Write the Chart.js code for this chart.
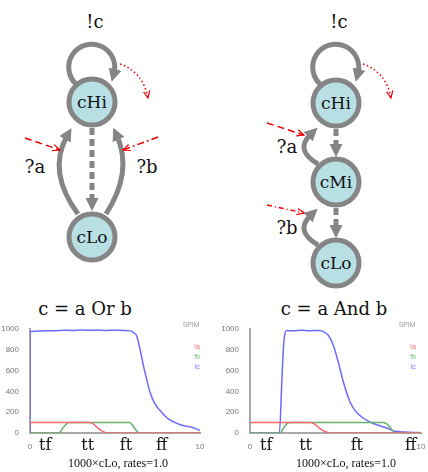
<!DOCTYPE html>
<html>
<head>
<meta charset="utf-8">
<script src="https://cdn.jsdelivr.net/npm/chart.js@4.4.1/dist/chart.umd.min.js"></script>
<style>
  body { margin: 0; background: #fff; }
  #page { position: relative; width: 428px; height: 472px; overflow: hidden; font-family: "DejaVu Serif", serif; }
  #page canvas, #page svg { position: absolute; }
  .txt { position: absolute; white-space: nowrap; transform: translate(-50%, -50%); color: #111; }
  .title { font-size: 18px; }
  .caption { font-family: "Liberation Serif", serif; font-size: 12px; }
</style>
</head>
<body>
<div id="page">
  <svg width="428" height="300" style="left:0;top:0" font-family="DejaVu Serif">
    <defs>
      <marker id="gh" viewBox="0 0 10 10" refX="3" refY="5" markerWidth="13" markerHeight="13" markerUnits="userSpaceOnUse" orient="auto">
        <path d="M0,0 L10,5 L0,10 z" fill="#858585"/>
      </marker>
      <marker id="rh" viewBox="0 0 10 10" refX="9" refY="5" markerWidth="8" markerHeight="8" markerUnits="userSpaceOnUse" orient="auto">
        <path d="M0,1 L9,5 L0,9" fill="none" stroke="#e00" stroke-width="1.5"/>
      </marker>
    </defs>
    <g fill="none" stroke="#858585" stroke-width="5">
      <!-- left diagram -->
      <path d="M76 84 A23 23 0 1 1 114 73" marker-end="url(#gh)"/>
      <path d="M92 128 L92 202" stroke-dasharray="7 4" marker-end="url(#gh)"/>
      <path d="M78 214 Q47 172 67 136" marker-end="url(#gh)"/>
      <path d="M106 214 Q133 172 117 136" marker-end="url(#gh)"/>
      <!-- right diagram -->
      <path d="M320 84 A23 23 0 1 1 358 73" marker-end="url(#gh)"/>
      <path d="M336 129 L336 148" stroke-dasharray="7 4" marker-end="url(#gh)"/>
      <path d="M336 208 L336 229" stroke-dasharray="7 4" marker-end="url(#gh)"/>
      <path d="M318 164 Q294 150 311 134" marker-end="url(#gh)"/>
      <path d="M318 245 Q294 231 311 215" marker-end="url(#gh)"/>
    </g>
    <g fill="#b8dfe3" stroke="#858585" stroke-width="5">
      <circle cx="92" cy="102" r="23"/>
      <circle cx="92" cy="237" r="23"/>
      <circle cx="336" cy="103" r="23"/>
      <circle cx="336" cy="182" r="23"/>
      <circle cx="336" cy="263" r="23"/>
    </g>
    <g fill="none" stroke="#e00" stroke-width="1.5">
      <path d="M25 138 L60 150" stroke-dasharray="7 4" marker-end="url(#rh)"/>
      <path d="M158 137 L123 150" stroke-dasharray="7 3 2 3" marker-end="url(#rh)"/>
      <path d="M120 64 Q143 72 148 98" stroke-dasharray="1.5 2.5" marker-end="url(#rh)"/>
      <path d="M267 123 L304 135" stroke-dasharray="7 4" marker-end="url(#rh)"/>
      <path d="M267 205 L304 213" stroke-dasharray="5 3 1 3" marker-end="url(#rh)"/>
      <path d="M363 64 Q386 72 391 98" stroke-dasharray="1.5 2.5" marker-end="url(#rh)"/>
    </g>
    <g fill="#111" font-size="18" text-anchor="middle">
      <text x="95" y="28">!c</text>
      <text x="35" y="173">?a</text>
      <text x="147" y="173">?b</text>
      <text x="339" y="28">!c</text>
      <text x="287" y="153">?a</text>
      <text x="287" y="234">?b</text>
    </g>
    <g fill="#111" font-size="17" text-anchor="middle">
      <text x="92" y="108">cHi</text>
      <text x="92" y="243">cLo</text>
      <text x="336" y="109">cHi</text>
      <text x="336" y="188">cMi</text>
      <text x="336" y="269">cLo</text>
    </g>
  </svg>

  <div class="txt title" style="left:85px;top:308px">c = a Or b</div>
  <div class="txt title" style="left:334px;top:308px">c = a And b</div>
  <canvas id="orChart" width="214" height="150" style="left:0;top:318px"></canvas>
  <canvas id="andChart" width="214" height="150" style="left:214px;top:318px"></canvas>
  <div class="txt caption" style="left:118px;top:463px">1000×cLo, rates=1.0</div>
  <div class="txt caption" style="left:346px;top:463px">1000×cLo, rates=1.0</div>
</div>

<script>
// c = a Or b
const orTimeA = [0, 3.5, 3.7, 3.9, 4.1, 4.3, 4.5, 10];
const orA = [100, 100, 90, 62, 35, 14, 0, 0];
const orTimeB = [0, 1.7, 1.9, 2.1, 2.3, 5.85, 6.0, 6.15, 6.3, 6.4, 10];
const orB = [0, 0, 40, 80, 100, 100, 80, 45, 15, 0, 0];
const orTimeC = [0, 0, 0.5, 1, 1.5, 2, 2.5, 3, 3.5, 4, 4.5, 5, 5.5, 5.9, 6.1, 6.27, 6.47, 6.67, 6.86, 7.06, 7.35, 7.75, 8.14, 8.73, 9.1, 9.51, 10];
const orC = [0, 975, 980, 984, 982, 988, 986, 990, 987, 991, 986, 989, 985, 982, 965, 936, 808, 648, 519, 391, 279, 199, 135, 87, 68, 55, 23];
const orCases = ["tf", "tt", "ft", "ff"];
const orCaseAt = [0.9, 3.4, 5.65, 7.75];

// c = a And b
const andTimeA = [0, 3.5, 3.75, 4.0, 4.25, 4.5, 4.7, 10];
const andA = [100, 100, 88, 55, 25, 8, 0, 0];
const andTimeB = [0, 1.75, 1.95, 2.15, 2.35, 7.75, 7.95, 8.15, 8.35, 8.5, 10];
const andB = [0, 0, 45, 88, 100, 100, 92, 62, 22, 0, 0];
const andTimeC = [0, 1.72, 1.85, 1.95, 2.05, 2.15, 2.5, 3, 3.5, 4, 4.3, 4.58, 4.87, 5.16, 5.46, 5.85, 6.14, 6.53, 7.02, 7.5, 8.0, 8.48, 9.06, 9.5, 10];
const andC = [0, 0, 450, 810, 960, 985, 982, 988, 984, 986, 975, 940, 843, 683, 490, 298, 218, 154, 106, 74, 48, 16, 10, 6, 3];
const andCases = ["tf", "tt", "ft", "ff"];
const andCaseAt = [0.95, 3.25, 6.25, 9.4];

const xTicks = [0, 10];
const yTicks = [0, 200, 400, 600, 800, 1000];
const seriesNames = ["!a", "!b", "!c"];
const seriesColors = ["#f06a6a", "#6ab06a", "#6b6bff"];

function pts(ts, vs) {
  return ts.map((t, i) => ({ x: t, y: vs[i] }));
}

// tf/tt/ft/ff under the x axis plus the little SPiM legend
const extras = {
  id: 'extras',
  afterDraw(chart, args, opts) {
    const c = chart.ctx, a = chart.chartArea, x = chart.scales.x;
    c.save();
    c.fillStyle = '#111';
    c.font = '16px "DejaVu Serif"';
    c.textAlign = 'center';
    c.textBaseline = 'alphabetic';
    opts.cases.forEach((s, i) => c.fillText(s, x.getPixelForValue(opts.at[i]), a.bottom + 17));
    c.font = '7px "Liberation Sans"';
    c.textBaseline = 'middle';
    c.fillStyle = '#999';
    c.fillText('SPiM', a.right - opts.lx - 6, a.top - 4);
    chart.data.datasets.forEach((d, i) => {
      c.fillStyle = d.borderColor;
      c.fillText(d.label, a.right - opts.lx, a.top + 18 + i * 10);
    });
    c.restore();
  }
};

function makeChart(id, series, cases, at, yWidth, padRight, lx) {
  new Chart(document.getElementById(id), {
    type: 'line',
    data: {
      datasets: series.map((s, i) => ({
        label: seriesNames[i],
        data: s,
        borderColor: seriesColors[i],
        borderWidth: 1.5,
        pointRadius: 0,
        cubicInterpolationMode: 'monotone',
        fill: false
      }))
    },
    options: {
      responsive: false,
      devicePixelRatio: 1,
      animation: false,
      layout: { padding: { top: 11, right: padRight, left: 0, bottom: 0 } },
      plugins: {
        legend: { display: false },
        tooltip: { enabled: false },
        extras: { cases: cases, at: at, lx: lx }
      },
      scales: {
        x: {
          type: 'linear', min: 0, max: 10,
          afterBuildTicks: s => { s.ticks = xTicks.map(v => ({ value: v })); },
          afterFit: s => { s.height = 35; },
          grid: { display: false },
          border: { display: true, color: '#a8a8a8', width: 2 },
          ticks: { font: { size: 8, family: 'Liberation Sans' }, color: '#777', padding: 1, maxRotation: 0, callback: v => String(v) }
        },
        y: {
          min: 0, max: 1000,
          afterBuildTicks: s => { s.ticks = yTicks.map(v => ({ value: v })); },
          afterFit: s => { s.width = yWidth; },
          grid: { display: false },
          border: { display: true, color: '#a8a8a8', width: 2 },
          ticks: { font: { size: 8, family: 'Liberation Sans' }, color: '#777', padding: 3, callback: v => String(v) }
        }
      }
    },
    plugins: [extras]
  });
}

makeChart('orChart',
  [pts(orTimeA, orA), pts(orTimeB, orB), pts(orTimeC, orC)],
  orCases, orCaseAt, 30, 14, 3);
makeChart('andChart',
  [pts(andTimeA, andA), pts(andTimeB, andB), pts(andTimeC, andC)],
  andCases, andCaseAt, 36, 7, 8);
</script>
</body>
</html>
